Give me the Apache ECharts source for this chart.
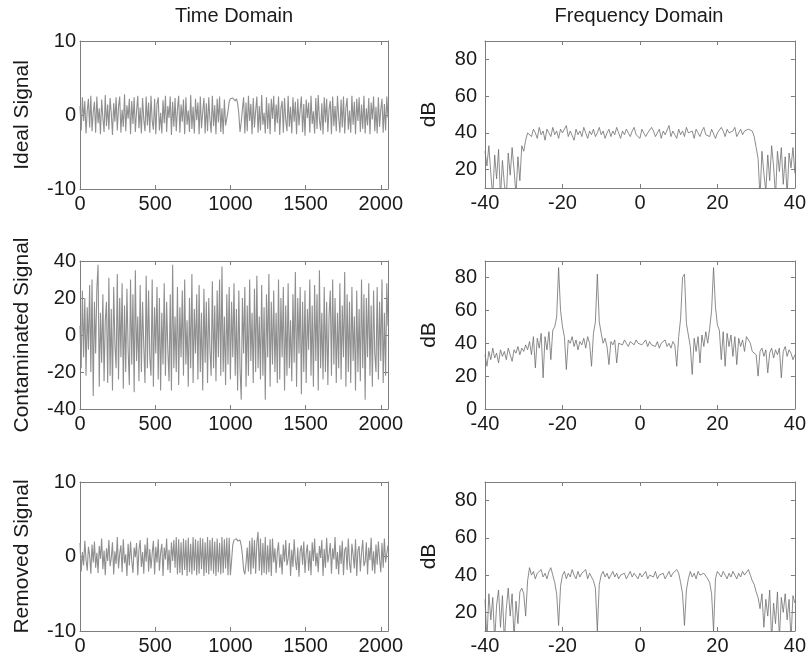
<!DOCTYPE html>
<html>
<head>
<meta charset="utf-8">
<script src="https://cdn.jsdelivr.net/npm/echarts@6/dist/echarts.min.js"></script>
<style>html,body{margin:0;padding:0;background:#fff}#c{width:809px;height:664px}</style>
</head>
<body>
<div id="c"></div>
<script>
// ---- Data ----
const TIME_STEP = 8;          // samples between listed time-domain values
const FREQ_START = -40, FREQ_STEP = 0.5;
const timeTicks = [0, 500, 1000, 1500, 2000];
const freqTicks = [-40, -20, 0, 20, 40];

const idealTime = [
 1.2,-2.1,2.4,-0.8,1.9,-2.5,0.6,2.2,-1.7,2.6,-2.2,0.4,1.8,-2.4,2.5,-1.1,
 0.9,-2.6,2.1,-0.3,-2.3,2.7,-1.5,1.4,-2.0,2.3,0.2,-2.7,1.6,-0.9,2.4,-2.1,
 1.1,2.5,-2.4,0.7,-1.6,2.8,-2.2,1.3,-0.5,2.2,-2.6,1.9,-1.2,2.4,-2.3,0.5,
 2.6,-1.8,1.0,-2.5,2.3,-0.6,-2.2,2.5,-1.4,1.7,-2.4,2.6,-0.8,-2.0,2.2,-2.6,
 1.5,2.4,-2.1,0.3,-2.5,2.0,-1.1,2.6,-2.3,1.2,-0.4,2.5,-2.7,1.8,-1.6,2.3,
 -2.2,0.8,2.6,-2.4,1.4,-0.9,2.1,-2.6,2.4,-1.3,0.6,-2.3,2.7,-1.9,1.1,-2.5,
 2.2,-0.7,1.7,-2.6,2.5,-1.8,0.4,2.3,-2.5,1.6,-2.2,2.4,-0.6,-2.4,2.6,-1.5,
 1.3,-2.6,2.2,-1.0,2.5,-2.3,0.9,-2.6,2.1,-1.4,-1.5,0.5,1.8,2.2,2.0,2.3,
 2.1,1.9,2.2,1.6,0.2,-2.3,-1.0,0.8,2.4,-2.5,1.7,-2.2,2.6,-0.8,1.5,-2.6,
 2.3,-1.7,0.6,2.5,-2.4,1.2,-2.1,2.7,-1.3,0.3,-2.5,2.4,-1.9,1.6,-2.6,2.2,
 -0.5,2.6,-2.3,1.4,-1.1,2.5,-2.7,0.9,1.9,-2.4,2.3,-0.7,-2.2,2.6,-1.6,1.1,
 -2.5,2.4,-0.9,1.8,-2.6,2.2,-1.4,0.7,2.5,-2.3,1.5,-2.8,2.1,-0.4,1.7,-2.4,
 2.6,-1.2,0.5,-2.5,2.3,-1.9,2.7,-0.6,-2.1,1.6,-2.6,2.4,-1.0,2.2,-2.3,0.8,
 1.9,-2.6,2.5,-1.5,1.2,-2.2,2.6,-0.3,-2.4,2.1,-1.7,2.5,-2.5,1.0,2.3,-2.0,
 0.6,-2.4,2.6,-1.3,1.8,-2.6,2.2,-0.8,2.4,-2.3,1.4,-1.9,2.6,-2.5,0.9,-1.4,
 2.3,-2.6,1.7,-0.6,2.5,-2.2,1.1,-2.5,2.4,-1.6,0.7,2.2,-2.4,1.5,-2.1,2.5,
 -0.4
];

const contaminatedTime = [
 5,-18,24,-12,20,-22,15,-8,27,-20,30,-33,18,-10,25,38,
 -28,12,-15,22,-25,8,18,-26,31,-22,14,-30,26,-5,-18,33,
 -24,20,-12,28,-29,16,-20,25,-8,-27,30,-16,22,-31,35,-14,
 10,-25,27,-20,18,-6,-26,32,-18,24,-12,-22,30,-28,15,-10,
 26,-24,20,-30,12,-16,28,-22,18,-8,-25,22,-30,38,-18,10,
 -20,26,-27,15,-12,24,-22,30,-16,8,-28,20,-18,33,-26,14,
 -10,22,-24,27,-20,12,-30,25,-15,18,-26,20,-8,-22,29,-18,
 16,-25,24,-12,30,-22,37,-20,10,-27,22,-16,26,-24,18,-12,
 28,-22,14,-30,24,-18,-35,20,-10,26,-28,16,-22,30,-14,12,
 -26,25,-20,32,-18,10,-24,27,-22,15,-35,22,-12,33,-28,18,
 -16,24,-20,12,-26,30,-24,20,-12,26,-30,16,-22,28,-18,8,
 -25,22,-15,34,-28,20,-10,26,-32,18,-20,24,-26,14,-8,30,
 -22,16,-28,27,-14,22,-30,35,-18,12,-24,26,-20,18,-27,10,
 24,-22,30,-16,20,-26,12,-18,28,-24,16,-12,34,-28,22,-20,
 18,-26,26,-14,10,-30,24,-20,14,-25,30,-18,22,-35,20,-12,
 28,-22,16,-28,24,-10,-20,26,-24,18,-14,30,-26,12,-22,28,
 5
];

const removedTime = [
 1.8,-2.0,0.6,-1.2,2.1,-0.4,-1.9,1.3,0.2,-2.3,1.6,-0.8,2.0,-1.5,0.5,-2.2,
 1.4,-0.3,2.4,-1.7,0.8,-2.5,1.1,-0.6,2.2,-1.3,-0.2,1.9,-2.4,0.7,-1.0,2.6,
 -1.6,0.4,1.5,-2.1,2.3,-0.9,0.3,-2.6,1.7,-1.2,2.0,-0.5,-2.2,1.2,-0.1,1.8,
 -2.5,0.9,2.2,-1.4,0.6,-2.3,1.6,-0.7,2.5,-2.0,1.0,-1.6,0.4,2.1,-2.4,1.3,
 -0.8,2.3,-1.9,0.5,1.7,-2.6,1.2,-0.4,2.4,-1.8,0.9,-2.2,1.9,-0.6,2.2,-1.5,
 2.6,-2.4,2.3,-2.2,1.9,-2.5,2.4,-1.8,2.2,-2.6,2.5,-2.1,1.7,-2.4,2.6,-1.9,
 2.3,-2.5,2.1,-2.3,2.5,-1.7,2.4,-2.6,1.9,-2.2,2.6,-2.4,2.2,-1.9,2.5,-2.3,
 2.0,-2.6,2.4,-2.1,1.8,-2.4,2.6,-2.2,2.3,-1.6,2.5,-2.5,2.5,-2.5,-0.5,1.6,
 2.2,2.0,2.4,2.1,1.9,2.2,1.5,0.2,-1.8,-2.4,-0.9,1.2,-2.0,2.1,-2.4,2.5,
 -1.6,2.2,-2.3,1.9,3.3,-1.9,2.4,-2.5,1.8,-2.2,2.6,-2.4,1.5,-2.1,2.3,-2.6,
 2.4,-0.8,1.1,-2.2,0.6,1.9,-1.5,0.3,-2.4,1.6,-0.7,2.2,-1.2,-0.3,1.8,-2.6,
 0.9,-1.4,2.3,-0.5,-1.8,1.2,-2.7,0.7,1.5,-1.1,2.0,-2.2,0.4,1.6,-1.9,0.8,
 -2.5,1.9,-0.6,2.4,-1.3,0.5,-2.1,1.4,-0.2,2.2,-2.6,1.0,-1.5,2.5,-0.8,0.3,
 1.8,-2.3,1.1,-0.4,2.6,-1.7,0.6,-2.4,1.5,-1.0,2.1,-2.5,0.8,1.3,-1.8,2.4,
 -0.9,-2.2,1.7,0.2,-1.6,2.3,-2.6,0.9,1.4,-2.0,0.5,2.2,-1.3,-0.7,1.9,-2.4,
 1.2,-0.5,2.5,-1.9,0.7,-2.3,1.6,-1.1,2.0,-0.3,-2.1,1.8,-1.5,2.4,-0.8,0.4,
 1.5
];

const idealFreq = [
 30,22,33,18,5,28,15,31,5,25,
 12,4,29,17,32,20,6,27,14,33,
 30,36,40,41,38,42,40,37,43,39,
 41,36,42,40,38,43,39,41,37,42,
 40,39,44,38,41,40,36,42,39,41,
 38,43,40,37,41,39,42,38,40,43,
 39,41,37,40,42,38,41,39,43,40,
 37,41,39,42,40,38,41,43,39,40,
 37,42,41,38,40,39,43,41,38,40,
 42,37,41,39,40,44,38,41,40,37,
 42,39,41,38,43,40,39,41,37,42,
 40,38,41,43,39,40,38,42,41,37,
 40,39,43,41,38,42,40,39,41,43,
 38,40,42,39,41,40,42,43,41,38,
 32,26,5,30,18,8,28,14,33,22,
 5,30,19,32,12,27,6,29,21,32,
 18
];

const contaminatedFreq = [
 33,26,35,30,37,31,34,28,36,32,
 35,30,37,33,29,36,34,38,33,37,
 35,39,36,41,33,44,25,43,37,46,
 19,44,36,47,30,48,50,56,86,60,
 50,44,24,42,40,44,38,42,36,41,
 39,43,37,44,40,26,46,53,82,53,
 46,40,43,38,27,41,39,42,28,40,
 41,39,42,40,38,41,40,39,42,40,
 41,39,40,42,38,41,39,40,38,41,
 37,40,39,42,38,40,37,41,39,26,
 44,55,80,82,52,45,38,21,43,35,
 44,28,45,38,47,40,49,60,86,62,
 51,48,30,47,26,46,38,45,32,44,
 27,43,38,42,35,44,45,40,35,36,
 33,20,35,37,32,36,22,34,37,31,
 36,33,37,19,35,38,32,36,34,30,
 33
];

const removedFreq = [
 27,5,30,16,28,5,24,32,12,29,
 5,22,33,18,30,6,26,14,31,33,
 30,18,37,44,40,42,38,41,40,43,
 39,41,38,42,44,40,36,30,13,34,
 40,42,38,41,39,43,40,38,42,39,
 41,40,43,38,41,39,37,33,10,35,
 40,42,39,41,38,40,42,39,41,38,
 40,39,41,38,40,42,39,41,40,38,
 41,39,40,42,38,40,41,39,42,38,
 40,39,41,38,40,42,39,41,40,43,
 41,36,30,13,32,38,42,39,41,38,
 42,40,39,41,40,38,36,30,10,38,
 42,41,39,42,40,38,41,39,42,40,
 38,41,39,42,40,41,43,40,37,35,
 31,28,22,30,12,27,18,32,5,25,
 14,31,6,28,20,30,16,27,5,29,
 25
];

// ---- Chart construction ----
const FONT = '"Liberation Sans", Arial, Helvetica, sans-serif';
const TXT = '#1a1a1a';
const BOX = '#7d7d7d';

const timePairs = arr => arr.map((v, i) => [i * TIME_STEP, v]);
const freqPairs = arr => arr.map((v, i) => [FREQ_START + i * FREQ_STEP, v]);

const panels = [
  {grid:{left:80, top:41, width:308, height:148}, xr:[0,2048], xt:timeTicks, yr:[-10,10], yt:[-10,0,10], name:'Ideal Signal', data:timePairs(idealTime), yMargin:4, nameGap:47, time:true},
  {grid:{left:485, top:41, width:311, height:147}, xr:[-40,40], xt:freqTicks, yr:[10,90], yt:[20,40,60,80], name:'dB', data:freqPairs(idealFreq), yMargin:8, nameGap:45},
  {grid:{left:80, top:261, width:308, height:148}, xr:[0,2048], xt:timeTicks, yr:[-40,40], yt:[-40,-20,0,20,40], name:'Contaminated Signal', data:timePairs(contaminatedTime), yMargin:4, nameGap:47, time:true},
  {grid:{left:485, top:261, width:311, height:148}, xr:[-40,40], xt:freqTicks, yr:[0,90], yt:[0,20,40,60,80], name:'dB', data:freqPairs(contaminatedFreq), yMargin:8, nameGap:45},
  {grid:{left:80, top:482, width:308, height:149}, xr:[0,2048], xt:timeTicks, yr:[-10,10], yt:[-10,0,10], name:'Removed Signal', data:timePairs(removedTime), yMargin:4, nameGap:47, time:true},
  {grid:{left:485, top:482, width:311, height:149}, xr:[-40,40], xt:freqTicks, yr:[10,90], yt:[20,40,60,80], name:'dB', data:freqPairs(removedFreq), yMargin:8, nameGap:45}
];

const plain = v => String(v);
const grid = [], xAxis = [], yAxis = [], series = [];
panels.forEach((p, i) => {
  grid.push(Object.assign({containLabel:false}, p.grid));
  const tick = {show:true, inside:true, length:4, lineStyle:{color:BOX, width:1}};
  const line = {show:true, onZero:false, lineStyle:{color:BOX, width:1}};
  xAxis.push({type:'value', gridIndex:i, position:'bottom', min:p.xr[0], max:p.xr[1],
    axisLine:line, splitLine:{show:false},
    axisTick:Object.assign({customValues:p.xt}, tick),
    axisLabel:{customValues:p.xt, formatter:plain, margin:5, color:TXT, fontSize:20, fontFamily:FONT}});
  xAxis.push({type:'value', gridIndex:i, position:'top', min:p.xr[0], max:p.xr[1],
    axisLine:line, splitLine:{show:false},
    axisTick:Object.assign({customValues:p.xt}, tick),
    axisLabel:{show:false}});
  yAxis.push({type:'value', gridIndex:i, position:'left', min:p.yr[0], max:p.yr[1],
    axisLine:line, splitLine:{show:false},
    axisTick:Object.assign({customValues:p.yt}, tick),
    axisLabel:{customValues:p.yt, formatter:plain, margin:p.yMargin, color:TXT, fontSize:20, fontFamily:FONT},
    name:p.name, nameLocation:'middle', nameGap:p.nameGap,
    nameTextStyle:{color:TXT, fontSize:21, fontFamily:FONT}});
  yAxis.push({type:'value', gridIndex:i, position:'right', min:p.yr[0], max:p.yr[1],
    axisLine:line, splitLine:{show:false},
    axisTick:Object.assign({customValues:p.yt}, tick),
    axisLabel:{show:false}});
  series.push({type:'line', xAxisIndex:2*i, yAxisIndex:2*i, data:p.data,
    showSymbol:false, symbol:'none', clip:true, silent:true,
    lineStyle:p.time ? {color:'#8f8f8f', width:1.1} : {color:'#6e6e6e', width:0.8}});
});

const chart = echarts.init(document.getElementById('c'), null, {renderer:'canvas'});
chart.setOption({
  animation:false,
  backgroundColor:'#ffffff',
  grid, xAxis, yAxis, series,
  graphic:[
    {type:'text', x:234, y:16, style:{text:'Time Domain', align:'center', verticalAlign:'middle', fill:TXT, font:'20px ' + FONT}},
    {type:'text', x:639, y:16, style:{text:'Frequency Domain', align:'center', verticalAlign:'middle', fill:TXT, font:'20px ' + FONT}}
  ]
});
</script>
</body>
</html>
